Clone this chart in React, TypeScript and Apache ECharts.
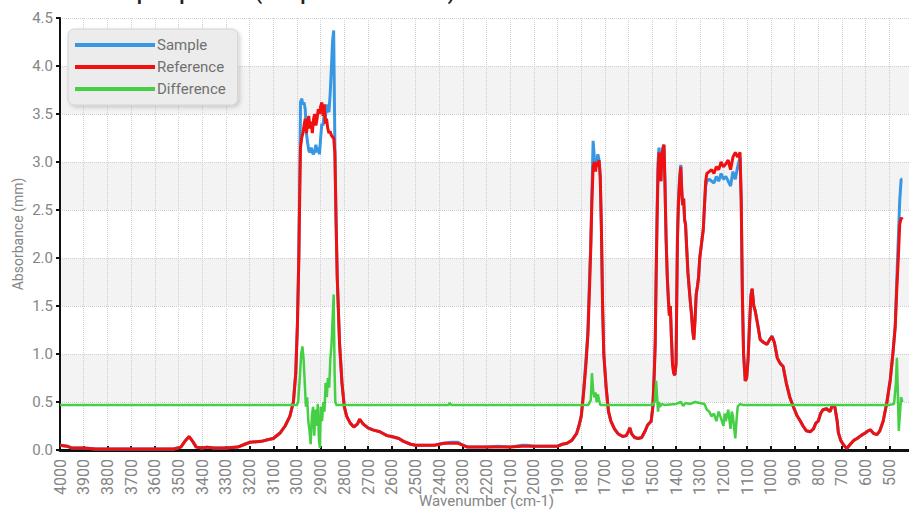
import React, { useEffect, useRef } from "react";
import * as echarts from "echarts";

// Wavenumbers (cm-1) for the sample / reference spectra
const specWn = [
  4000, 3970, 3950, 3900, 3850, 3800, 3700, 3600, 3520, 3490, 3470, 3455, 3440, 3425, 3400, 3380, 3350, 3300, 3250, 3220,
  3200, 3150, 3120, 3100, 3070, 3050, 3030, 3015, 3005, 2998, 2992, 2988, 2985, 2980, 2975, 2970, 2965, 2960, 2955, 2950,
  2945, 2940, 2935, 2930, 2925, 2920, 2915, 2910, 2905, 2900, 2895, 2890, 2885, 2880, 2875, 2870, 2865, 2860, 2855, 2850,
  2845, 2840, 2835, 2830, 2820, 2810, 2800, 2790, 2775, 2760, 2745, 2735, 2720, 2700, 2680, 2650, 2620, 2600, 2570, 2550,
  2520, 2500, 2450, 2420, 2400, 2380, 2350, 2320, 2300, 2280, 2200, 2150, 2100, 2050, 2030, 2000, 1950, 1900, 1880, 1860,
  1840, 1820, 1810, 1800, 1790, 1780, 1772, 1765, 1760, 1755, 1750, 1745, 1740, 1735, 1730, 1725, 1720, 1715, 1710, 1705,
  1695, 1685, 1675, 1660, 1645, 1625, 1610, 1600, 1595, 1588, 1575, 1560, 1545, 1530, 1520, 1505, 1498, 1492, 1488, 1484,
  1480, 1476, 1472, 1468, 1464, 1460, 1455, 1451, 1447, 1442, 1437, 1432, 1428, 1424, 1420, 1415, 1410, 1405, 1400, 1397,
  1394, 1390, 1385, 1380, 1376, 1372, 1368, 1364, 1360, 1355, 1350, 1345, 1340, 1335, 1330, 1325, 1320, 1315, 1310, 1305,
  1300, 1295, 1290, 1285, 1280, 1275, 1270, 1260, 1250, 1240, 1230, 1220, 1210, 1200, 1190, 1180, 1170, 1160, 1150, 1140,
  1130, 1125, 1120, 1115, 1108, 1102, 1096, 1090, 1084, 1079, 1072, 1066, 1055, 1045, 1030, 1016, 1005, 995, 985, 973,
  960, 948, 935, 920, 905, 890, 875, 864, 850, 834, 820, 810, 800, 790, 780, 765, 750, 740, 730, 720,
  715, 705, 695, 685, 678, 665, 650, 636, 620, 600, 590, 580, 565, 552, 540, 526, 510, 496, 485, 475,
  468, 462, 456, 450, 445,
];

// Reference absorbance
const referenceAbs = [
  0.05, 0.04, 0.02, 0.02, 0.01, 0.01, 0.01, 0.01, 0.01, 0.03, 0.10, 0.14, 0.09, 0.03, 0.02, 0.03, 0.02, 0.02, 0.03, 0.06,
  0.08, 0.09, 0.11, 0.12, 0.18, 0.25, 0.35, 0.50, 0.80, 1.30, 2.00, 2.70, 3.15, 3.25, 3.30, 3.38, 3.45, 3.30, 3.40, 3.48,
  3.35, 3.42, 3.30, 3.45, 3.50, 3.38, 3.45, 3.55, 3.50, 3.58, 3.62, 3.48, 3.60, 3.40, 3.45, 3.35, 3.30, 3.32, 3.28, 3.26,
  3.25, 3.10, 2.40, 1.80, 1.10, 0.70, 0.45, 0.35, 0.28, 0.24, 0.27, 0.32, 0.27, 0.23, 0.21, 0.19, 0.15, 0.14, 0.12, 0.09,
  0.06, 0.05, 0.05, 0.05, 0.06, 0.07, 0.07, 0.07, 0.05, 0.03, 0.03, 0.03, 0.03, 0.04, 0.04, 0.04, 0.04, 0.04, 0.06, 0.07,
  0.10, 0.17, 0.25, 0.35, 0.60, 0.90, 1.20, 1.70, 2.10, 2.60, 2.95, 3.00, 2.90, 3.00, 2.95, 3.02, 2.85, 2.30, 1.50, 1.00,
  0.65, 0.40, 0.30, 0.22, 0.17, 0.14, 0.15, 0.20, 0.23, 0.17, 0.13, 0.12, 0.13, 0.20, 0.26, 0.30, 0.45, 0.80, 1.10, 1.80,
  2.40, 2.90, 3.10, 3.00, 2.80, 3.05, 3.15, 3.18, 2.80, 2.20, 1.80, 1.55, 1.40, 1.50, 1.20, 0.90, 0.80, 0.78, 0.90, 1.60,
  2.20, 2.55, 2.80, 2.95, 2.70, 2.55, 2.62, 2.40, 2.35, 2.10, 1.85, 1.70, 1.55, 1.42, 1.25, 1.15, 1.35, 1.62, 1.70, 1.80,
  2.00, 2.10, 2.20, 2.30, 2.55, 2.80, 2.88, 2.90, 2.92, 2.88, 2.95, 2.92, 3.00, 2.95, 2.98, 3.02, 2.92, 3.05, 3.10, 3.05,
  3.10, 2.60, 1.60, 1.00, 0.72, 0.75, 0.95, 1.30, 1.60, 1.68, 1.50, 1.45, 1.30, 1.15, 1.12, 1.10, 1.15, 1.18, 1.12, 0.96,
  0.90, 0.87, 0.70, 0.55, 0.45, 0.36, 0.30, 0.25, 0.20, 0.19, 0.22, 0.28, 0.30, 0.38, 0.42, 0.43, 0.40, 0.47, 0.45, 0.30,
  0.18, 0.10, 0.06, 0.03, 0.02, 0.06, 0.10, 0.12, 0.15, 0.18, 0.20, 0.21, 0.17, 0.16, 0.20, 0.30, 0.50, 0.73, 1.00, 1.28,
  1.70, 2.00, 2.35, 2.42, 2.40,
];

// Sample absorbance
const sampleAbs = [
  0.05, 0.04, 0.02, 0.02, 0.01, 0.01, 0.01, 0.01, 0.01, 0.03, 0.10, 0.14, 0.09, 0.03, 0.02, 0.03, 0.02, 0.02, 0.03, 0.06,
  0.08, 0.09, 0.11, 0.12, 0.18, 0.25, 0.35, 0.50, 0.80, 1.32, 2.05, 2.85, 3.62, 3.66, 3.60, 3.62, 3.55, 3.30, 3.20, 3.12,
  3.10, 3.15, 3.10, 3.08, 3.12, 3.18, 3.10, 3.15, 3.08, 3.25, 3.40, 3.38, 3.50, 3.45, 3.60, 3.55, 3.52, 3.70, 3.95, 4.25,
  4.37, 3.20, 2.40, 1.80, 1.10, 0.70, 0.45, 0.35, 0.28, 0.24, 0.27, 0.32, 0.27, 0.23, 0.21, 0.19, 0.15, 0.14, 0.12, 0.09,
  0.06, 0.05, 0.05, 0.05, 0.06, 0.07, 0.08, 0.08, 0.05, 0.03, 0.03, 0.04, 0.03, 0.05, 0.05, 0.04, 0.04, 0.04, 0.06, 0.07,
  0.10, 0.17, 0.25, 0.36, 0.62, 0.95, 1.25, 1.80, 2.15, 2.70, 3.22, 3.05, 2.95, 3.00, 3.08, 3.02, 2.85, 2.30, 1.50, 1.00,
  0.65, 0.40, 0.30, 0.22, 0.17, 0.14, 0.15, 0.20, 0.23, 0.17, 0.13, 0.12, 0.13, 0.20, 0.26, 0.30, 0.45, 0.80, 1.12, 1.85,
  2.50, 3.00, 3.15, 3.05, 2.80, 3.08, 3.15, 3.18, 2.80, 2.20, 1.80, 1.55, 1.40, 1.50, 1.20, 0.90, 0.80, 0.78, 0.90, 1.62,
  2.25, 2.60, 2.85, 2.97, 2.72, 2.55, 2.62, 2.40, 2.35, 2.10, 1.85, 1.70, 1.55, 1.42, 1.25, 1.15, 1.35, 1.62, 1.70, 1.80,
  2.00, 2.10, 2.20, 2.30, 2.55, 2.75, 2.80, 2.82, 2.80, 2.78, 2.85, 2.80, 2.88, 2.82, 2.85, 2.80, 2.75, 2.90, 2.82, 2.95,
  3.05, 2.60, 1.60, 1.00, 0.72, 0.75, 0.95, 1.30, 1.62, 1.68, 1.50, 1.45, 1.30, 1.15, 1.12, 1.10, 1.15, 1.19, 1.12, 0.96,
  0.90, 0.87, 0.70, 0.55, 0.45, 0.36, 0.30, 0.25, 0.20, 0.19, 0.22, 0.28, 0.30, 0.38, 0.42, 0.43, 0.40, 0.47, 0.45, 0.30,
  0.18, 0.10, 0.06, 0.03, 0.02, 0.06, 0.10, 0.12, 0.15, 0.18, 0.20, 0.21, 0.17, 0.16, 0.20, 0.30, 0.50, 0.73, 1.00, 1.30,
  1.80, 2.20, 2.60, 2.82, 2.82,
];

// Difference (offset) series
const diffWn = [
  4000, 3000, 2995, 2988, 2982, 2977, 2972, 2967, 2962, 2957, 2952, 2947, 2942, 2937, 2932, 2927, 2922, 2917, 2912, 2907,
  2903, 2899, 2894, 2889, 2884, 2879, 2874, 2869, 2864, 2859, 2854, 2849, 2845, 2841, 2838, 2834, 2360, 2355, 2350, 1770,
  1760, 1755, 1750, 1745, 1740, 1735, 1730, 1725, 1720, 1500, 1490, 1484, 1480, 1476, 1472, 1468, 1460, 1450, 1400, 1380,
  1370, 1360, 1340, 1320, 1300, 1280, 1270, 1260, 1250, 1240, 1230, 1220, 1210, 1200, 1195, 1190, 1180, 1170, 1165, 1160,
  1150, 1145, 1140, 1130, 1120, 500, 480, 472, 468, 464, 460, 456, 450, 445,
];
const diffAbs = [
  0.47, 0.47, 0.50, 0.75, 1.00, 1.08, 0.95, 0.70, 0.45, 0.55, 0.30, 0.20, 0.06, 0.35, 0.45, 0.15, 0.42, 0.25, 0.48, 0.10,
  0.02, 0.45, 0.30, 0.50, 0.40, 0.70, 0.55, 0.75, 0.65, 0.95, 1.10, 1.40, 1.62, 0.80, 0.50, 0.47, 0.47, 0.49, 0.47, 0.47,
  0.52, 0.80, 0.62, 0.55, 0.60, 0.50, 0.58, 0.52, 0.47, 0.47, 0.50, 0.72, 0.55, 0.40, 0.50, 0.45, 0.48, 0.47, 0.48, 0.50,
  0.46, 0.49, 0.48, 0.50, 0.49, 0.48, 0.42, 0.40, 0.35, 0.38, 0.30, 0.40, 0.33, 0.25, 0.38, 0.30, 0.42, 0.22, 0.40, 0.35,
  0.12, 0.30, 0.45, 0.48, 0.47, 0.47, 0.48, 0.70, 0.96, 0.60, 0.20, 0.35, 0.55, 0.50,
];

const yTicks = ["0.0", "0.5", "1.0", "1.5", "2.0", "2.5", "3.0", "3.5", "4.0", "4.5"];

const FONT = "Roboto, 'Liberation Sans', sans-serif";
const GREY = "#858585";

export default function App() {
  const ref = useRef<HTMLDivElement>(null);

  useEffect(() => {
    if (!ref.current) return;
    const chart = echarts.init(ref.current, undefined, { renderer: "svg" });
    const pair = (xs: number[], ys: number[]) => xs.map((x, i) => [x, ys[i]]);
    chart.setOption({
      animation: false,
      backgroundColor: "#ffffff",
      textStyle: { fontFamily: FONT },
      title: {
        text: "IR - Sample Spectrum (Sample vs. Reference)",
        left: 64,
        top: -16,
        padding: 0,
        textStyle: { fontSize: 19, fontWeight: "bold", color: "#222", fontFamily: FONT },
      },
      legend: {
        orient: "vertical",
        left: 68,
        top: 29,
        padding: [8, 12, 8, 7],
        itemWidth: 80,
        itemHeight: 4,
        itemGap: 6,
        icon: "rect",
        backgroundColor: "#ececec",
        borderColor: "#d2d2d2",
        borderWidth: 1,
        borderRadius: 6,
        shadowBlur: 4,
        shadowColor: "rgba(0,0,0,0.18)",
        shadowOffsetX: 2,
        shadowOffsetY: 2,
        textStyle: { color: "#707070", fontSize: 15, lineHeight: 16, fontFamily: FONT, padding: [0, 0, 0, -3] },
        data: ["Sample", "Reference", "Difference"],
      },
      grid: { left: 60, right: -4, top: 18, bottom: 61, outerBoundsMode: "none", containLabel: false },
      xAxis: {
        type: "value",
        inverse: true,
        min: 400,
        max: 4000,
        interval: 100,
        name: "Wavenumber (cm-1)",
        nameLocation: "middle",
        nameGap: 43,
        nameMoveOverlap: false,
        nameTextStyle: { color: GREY, fontSize: 15, fontFamily: FONT },
        axisLine: { show: true, onZero: false, lineStyle: { color: "#111", width: 3 } },
        axisTick: { show: true, inside: true, length: 4, lineStyle: { color: "#111", width: 2 } },
        axisLabel: {
          rotate: 90,
          color: GREY,
          fontSize: 16,
          margin: 9,
          fontFamily: FONT,
          formatter: (v: number) => (v < 450 ? "" : String(v)),
        },
        splitLine: { show: true, lineStyle: { color: "#cfcfcf", type: "dotted", width: 1 } },
      },
      yAxis: {
        type: "value",
        min: 0,
        max: 4.5,
        interval: 0.5,
        name: "Absorbance (mm)",
        nameLocation: "middle",
        nameGap: 35,
        nameMoveOverlap: false,
        nameTextStyle: { color: GREY, fontSize: 14, fontFamily: FONT },
        axisLine: { show: true, lineStyle: { color: "#111", width: 2 } },
        axisTick: { show: true, inside: false, length: 4, lineStyle: { color: "#111", width: 2 } },
        axisLabel: {
          color: GREY,
          fontSize: 15,
          margin: 7,
          fontFamily: FONT,
          formatter: (v: number) => yTicks[Math.round(v * 2)] ?? v.toFixed(1),
        },
        splitLine: { show: true, lineStyle: { color: "#cfcfcf", type: "dotted", width: 1 } },
        splitArea: { show: true, areaStyle: { color: ["#ffffff", "#f3f3f3"] } },
      },
      series: [
        {
          name: "Sample",
          type: "line",
          data: pair(specWn, sampleAbs),
          showSymbol: false,
          symbol: "none",
          lineStyle: { color: "#3797e3", width: 3 },
          itemStyle: { color: "#3797e3" },
          z: 2,
        },
        {
          name: "Reference",
          type: "line",
          data: pair(specWn, referenceAbs),
          showSymbol: false,
          symbol: "none",
          lineStyle: { color: "#f01010", width: 3 },
          itemStyle: { color: "#f01010" },
          z: 3,
        },
        {
          name: "Difference",
          type: "line",
          data: pair(diffWn, diffAbs),
          showSymbol: false,
          symbol: "none",
          lineStyle: { color: "#45cf45", width: 2.5 },
          itemStyle: { color: "#45cf45" },
          z: 4,
        },
      ],
    });
    return () => chart.dispose();
  }, []);

  return (
    <div
      ref={ref}
      style={{ position: "fixed", left: 0, top: 0, width: 909, height: 511 }}
    />
  );
}
